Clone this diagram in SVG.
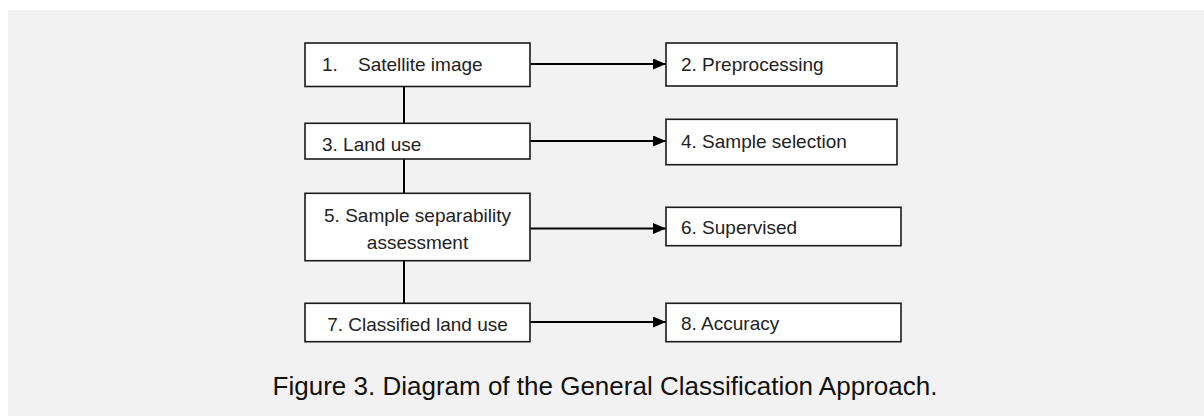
<svg xmlns="http://www.w3.org/2000/svg" width="1204" height="416" viewBox="0 0 1204 416">
<style>
.box{fill:#fff;stroke:#1a1a1a;stroke-width:1.6}
.t{font-family:"Liberation Sans",Arial,sans-serif;font-size:19px;fill:#222}
.conn line{stroke:#000;stroke-width:2}
.cap{font-family:"Liberation Sans",Arial,sans-serif;font-size:26px;fill:#111}
</style>
<defs>
<marker id="ah" markerUnits="userSpaceOnUse" markerWidth="13" markerHeight="11" refX="13" refY="5.5" orient="auto">
<path d="M0,0 L13,5.5 L0,11 z" fill="#000"/>
</marker>
</defs>
<rect x="0" y="0" width="1204" height="416" fill="#fff"/>
<rect x="8" y="10" width="1196" height="406" fill="#f2f2f2"/>
<g id="connectors" class="conn">
<line x1="404" y1="86" x2="404" y2="123"/>
<line x1="404" y1="159" x2="404" y2="193"/>
<line x1="404" y1="261" x2="404" y2="303"/>
<line x1="530" y1="64" x2="666" y2="64" marker-end="url(#ah)"/>
<line x1="530" y1="141" x2="666" y2="141" marker-end="url(#ah)"/>
<line x1="530" y1="228.5" x2="666" y2="228.5" marker-end="url(#ah)"/>
<line x1="530" y1="322" x2="666" y2="322" marker-end="url(#ah)"/>
</g>
<g id="n1"><rect class="box" x="305" y="43" width="225" height="43.5"/><text class="t" x="322" y="71">1.</text><text class="t" x="358" y="71">Satellite image</text></g>
<g id="n2"><rect class="box" x="666" y="43" width="231" height="43"/><text class="t" x="681" y="71">2. Preprocessing</text></g>
<g id="n3"><rect class="box" x="305" y="123.3" width="225" height="35.7"/><text class="t" x="322" y="150.5">3. Land use</text></g>
<g id="n4"><rect class="box" x="666" y="119.3" width="231" height="45.4"/><text class="t" x="681" y="147.5">4. Sample selection</text></g>
<g id="n5"><rect class="box" x="305" y="193.3" width="225" height="67.4"/><text class="t" x="417.5" y="221.5" text-anchor="middle">5. Sample separability</text><text class="t" x="417.5" y="248.5" text-anchor="middle">assessment</text></g>
<g id="n6"><rect class="box" x="666" y="207.3" width="235" height="38.4"/><text class="t" x="681" y="234">6. Supervised</text></g>
<g id="n7"><rect class="box" x="305" y="303.3" width="225" height="38.4"/><text class="t" x="417.5" y="330.5" text-anchor="middle">7. Classified land use</text></g>
<g id="n8"><rect class="box" x="666" y="303.3" width="235" height="38.4"/><text class="t" x="681" y="330">8. Accuracy</text></g>
<text class="cap" x="605" y="395" text-anchor="middle">Figure 3. Diagram of the General Classification Approach.</text>
</svg>
